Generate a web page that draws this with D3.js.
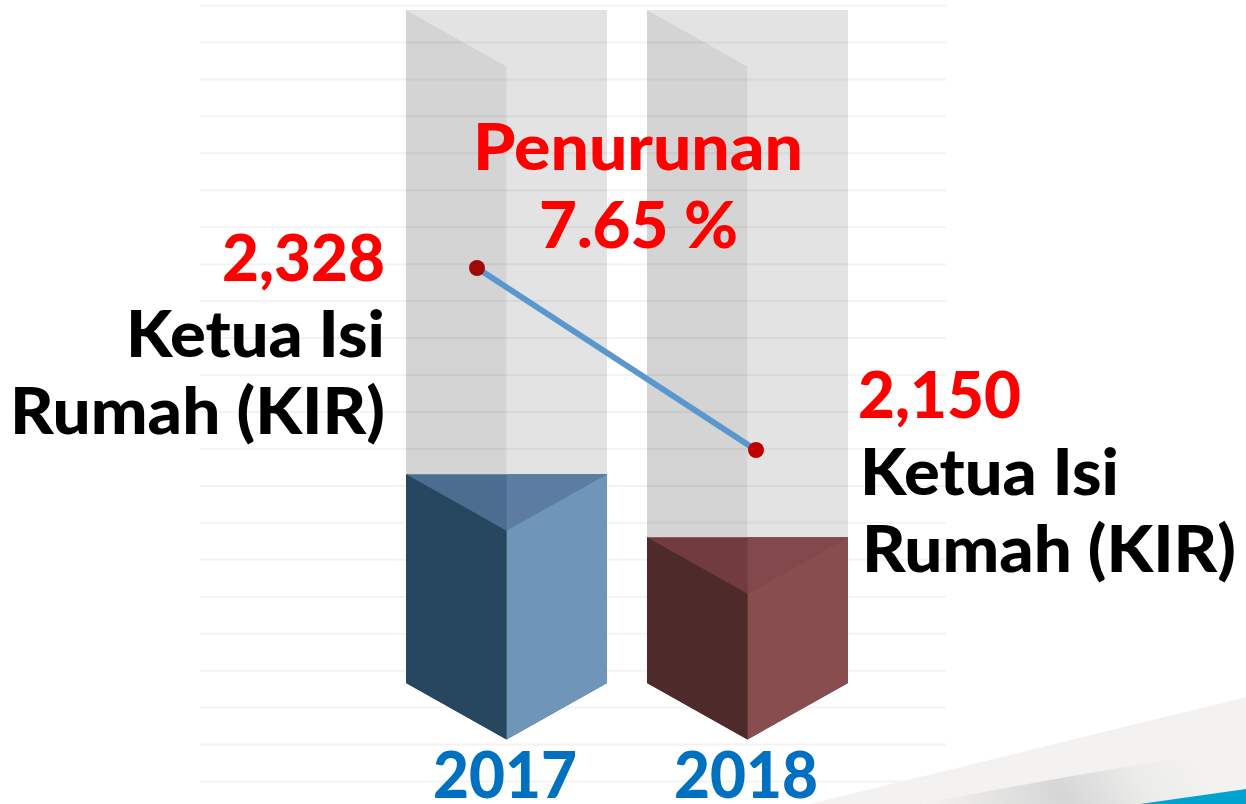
<!DOCTYPE html>
<html>
<head>
<meta charset="utf-8">
<script src="https://cdn.jsdelivr.net/npm/d3@7"></script>
<style>
  html, body { margin: 0; padding: 0; background: #fff; overflow: hidden; }
  svg { display: block; }
  text { font-family: Lato, "Open Sans", sans-serif; font-weight: 900; }
  .grid .domain { display: none; }
  .grid line { stroke: #f3f3f3; stroke-width: 2; }
</style>
</head>
<body>
<div id="plot"></div>
<script>
// Chart values
const years = ["2017", "2018"];
const kirValues = [2328, 2150];
const kirLabel = ["Ketua Isi", "Rumah (KIR)"];
const noteLines = ["Penurunan", "7.65 %"];
const gridTicks = d3.range(22);

const width = 1246, height = 804;
const depth = 56.5;

const svg = d3.select("#plot")
    .append("svg")
    .attr("width", width)
    .attr("height", height);

// Corner swoosh from the slide background
const defs = svg.append("defs");
const shade = defs.append("linearGradient")
    .attr("id", "swooshShade")
    .attr("gradientUnits", "userSpaceOnUse")
    .attr("x1", 1075).attr("y1", 815)
    .attr("x2", 1190).attr("y2", 745);
shade.append("stop").attr("offset", 0).attr("stop-color", "#d6d6d6");
shade.append("stop").attr("offset", 0.55).attr("stop-color", "#ececeb");
shade.append("stop").attr("offset", 1).attr("stop-color", "#f3f2f0");
const edge = defs.append("linearGradient")
    .attr("id", "swooshEdge")
    .attr("gradientUnits", "userSpaceOnUse")
    .attr("x1", 925).attr("y1", 804)
    .attr("x2", 1060).attr("y2", 790);
edge.append("stop").attr("offset", 0).attr("stop-color", "#f3f2f0");
edge.append("stop").attr("offset", 1).attr("stop-color", "#f3f2f0").attr("stop-opacity", 0);

const swoosh = svg.append("g");
swoosh.append("path").attr("d", "M810,804L1246,697V804Z").attr("fill", "#f3f2f0");
swoosh.append("path").attr("d", "M925,804Q1060,776 1246,748V804Z").attr("fill", "url(#swooshShade)");
swoosh.append("path").attr("d", "M925,804Q1060,776 1246,748V804Z").attr("fill", "url(#swooshEdge)");
swoosh.append("path").attr("d", "M1140,804L1246,789V804Z").attr("fill", "#00a3d0");

// Grid lines
const gridY = d3.scaleLinear().domain([0, 21]).range([5, 781]);
svg.append("g")
    .attr("class", "grid")
    .attr("transform", "translate(200,0)")
    .call(d3.axisRight(gridY).tickValues(gridTicks).tickSize(746).tickFormat(""));

// Scales
const x = d3.scaleBand().domain(years).range([406, 848]).paddingInner(40 / 241);
const barY = d3.scaleLinear().domain([1738, 3639]).range([683, 10]);
const lineX = d3.scalePoint().domain(years).range([477, 756]);
const lineY = d3.scaleLinear().domain([2150, 2328]).range([450, 268]);

const barData = years.map((year, i) => ({ year, value: kirValues[i] }));
const barColors = {
    "2017": { left: "#274760", right: "#6f95b9", capLeft: "#4a6d90", capRight: "#5c7ca2" },
    "2018": { left: "#4f2a2b", right: "#884e4f", capLeft: "#723b3e", capRight: "#82494c" }
};
const pts = list => list.map(p => p.join(",")).join(" ");

const bars = svg.selectAll(".bar")
    .data(barData)
    .join("g")
    .attr("class", "bar");

// Grey full height column behind each bar
bars.each(function(d) {
    const g = d3.select(this);
    const x0 = x(d.year), x1 = x0 + x.bandwidth(), xc = x0 + x.bandwidth() / 2;
    const top = barY.range()[1], base = barY.range()[0], y = barY(d.value);
    const c = barColors[d.year];

    g.append("polygon")
        .attr("points", pts([[x0, top], [xc, top + depth], [xc, base + depth], [x0, base]]))
        .attr("fill", "#000").attr("fill-opacity", 0.17);
    g.append("polygon")
        .attr("points", pts([[x0, top], [x1, top], [x1, base], [xc, base + depth], [xc, top + depth]]))
        .attr("fill", "#000").attr("fill-opacity", 0.11);

    // Solid part up to the value, caps drawn last over a base so no seams show
    g.append("polygon")
        .attr("points", pts([[x0, y], [x1, y], [x1, base], [xc, base + depth], [x0, base]]))
        .attr("fill", c.capLeft);
    g.append("polygon")
        .attr("points", pts([[xc, y], [x1, y], [xc, y + depth]]))
        .attr("fill", c.capRight);
    g.append("polygon")
        .attr("points", pts([[x1, y], [xc, y + depth], [xc, base + depth], [x1, base]]))
        .attr("fill", c.right);
    g.append("polygon")
        .attr("points", pts([[x0, y], [xc, y + depth], [xc, base + depth], [x0, base]]))
        .attr("fill", c.left);
});

// Trend line with its two dots
const line = d3.line().x(d => lineX(d.year)).y(d => lineY(d.value));
svg.append("path")
    .datum(barData)
    .attr("d", line)
    .attr("fill", "none")
    .attr("stroke", "#5b97cf")
    .attr("stroke-width", 6);
svg.selectAll(".dot")
    .data(barData)
    .join("circle")
    .attr("class", "dot")
    .attr("cx", d => lineX(d.year))
    .attr("cy", d => lineY(d.value))
    .attr("r", 8)
    .attr("fill", (d, i) => i === 0 ? "#a10808" : "#c00000");

// All the text, fitted to the widths measured on the picture
function label(str, xLeft, xRight, baseline, size, color) {
    svg.append("text")
        .attr("x", xLeft)
        .attr("y", baseline)
        .attr("textLength", xRight - xLeft)
        .attr("lengthAdjust", "spacingAndGlyphs")
        .attr("font-size", size)
        .attr("fill", color)
        .text(str);
}

const fmt = d3.format(",");
label(noteLines[0], 473, 803, 170, 64, "#ff0000");
label(noteLines[1], 539, 738, 248, 64, "#ff0000");

label(fmt(kirValues[0]), 222, 385, 281, 64, "#ff0000");
label(kirLabel[0], 126, 385, 357, 64, "#000");
label(kirLabel[1], 10, 385, 434, 64, "#000");

label(fmt(kirValues[1]), 858, 1021, 418, 64, "#ff0000");
label(kirLabel[0], 860, 1119, 495, 64, "#000");
label(kirLabel[1], 862, 1236, 572, 64, "#000");

label(years[0], 433, 577, 798, 64, "#0070c0");
label(years[1], 674, 818, 798, 64, "#0070c0");
</script>
</body>
</html>
